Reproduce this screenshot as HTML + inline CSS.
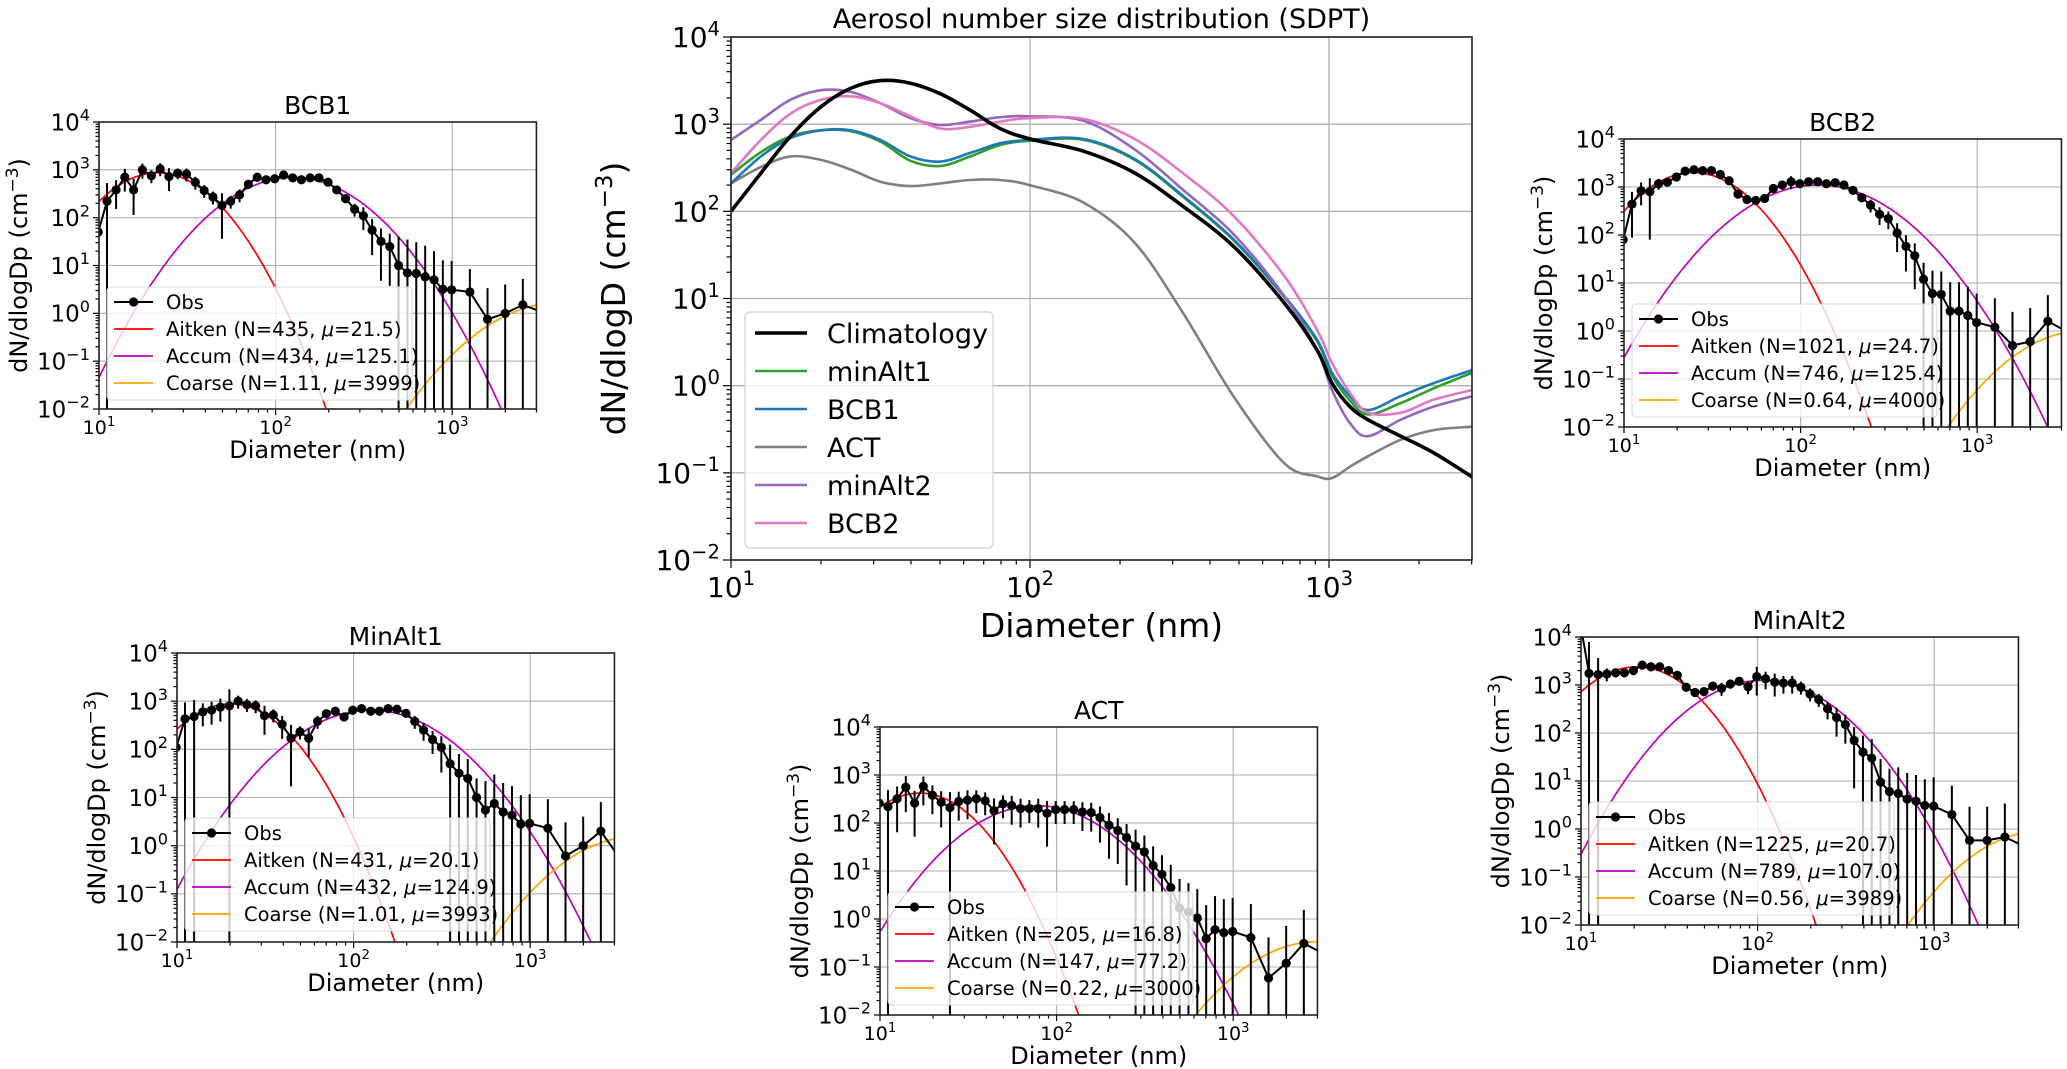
<!DOCTYPE html>
<html><head><meta charset="utf-8"><style>
html,body{margin:0;padding:0;background:#fff;overflow:hidden;}
svg{display:block;font-family:"DejaVu Sans","Liberation Sans",sans-serif;}
</style></head><body>
<svg id="fig" xmlns="http://www.w3.org/2000/svg" width="2067" height="1069" viewBox="0 0 2067 1069">
<rect width="2067" height="1069" fill="#fff"/>
</svg>
<script>
// ===== Main chart data =====
const mainDiam = [10,12.6,15.8,20,25.1,31.6,39.8,50.1,63.1,79.4,100,151,224,324,479,708,912,1023,1175,1349,1738,2239,3020];
const climLog10 = [2.0,2.44,2.86,3.20,3.41,3.50,3.47,3.35,3.16,2.95,2.83,2.69,2.44,2.06,1.60,0.95,0.41,0.03,-0.24,-0.39,-0.58,-0.77,-1.05];
const minAlt1Log10 = [2.42,2.68,2.86,2.93,2.92,2.80,2.58,2.52,2.63,2.76,2.81,2.82,2.59,2.17,1.67,1.02,0.51,0.12,-0.17,-0.33,-0.20,-0.03,0.15];
const bcb1Log10 = [2.32,2.63,2.84,2.93,2.93,2.82,2.63,2.57,2.67,2.78,2.82,2.83,2.60,2.18,1.68,1.03,0.53,0.15,-0.12,-0.28,-0.12,0.03,0.18];
const actLog10 = [2.32,2.51,2.63,2.59,2.48,2.34,2.29,2.32,2.36,2.36,2.30,2.10,1.64,0.84,-0.12,-0.89,-1.04,-1.06,-0.93,-0.81,-0.62,-0.51,-0.47];
const minAlt2Log10 = [2.82,3.05,3.28,3.39,3.37,3.24,3.07,2.99,3.03,3.08,3.09,3.04,2.71,2.25,1.74,1.03,0.41,-0.05,-0.43,-0.58,-0.39,-0.24,-0.12];
const bcb2Log10 = [2.44,2.82,3.12,3.28,3.32,3.24,3.09,2.95,2.97,3.03,3.07,3.06,2.83,2.44,1.95,1.26,0.64,0.26,-0.08,-0.31,-0.31,-0.16,-0.05];
const mainNames = ["Climatology","minAlt1","BCB1","ACT","minAlt2","BCB2"];
const yTickExp = [-2,-1,0,1,2,3,4];
const xTickExp = [1,2,3];

// ===== Sub-panel data =====
const obsDiam = [9.89,11.1,12.5,14.0,15.7,17.6,19.8,22.2,24.9,27.9,31.3,35.1,39.4,44.2,49.7,55.7,62.5,70.1,78.7,88.3,98.9,111,125,140,157,176,198,222,249,280,314,352,395,443,497,558,626,703,789,885,993,1259,1585,1995,2512,3162];
const bcb1Obs = [50,220,380,700,380,1000,750,1050,720,850,820,550,370,270,180,220,300,500,700,620,650,780,680,620,680,680,550,380,250,150,110,55,32,25,10,7,6.8,5.8,5,3.2,3.1,2.8,0.75,1.0,1.5,1.1];
const bcb1Err = [0,1.4,0.6,0.5,0.7,0.35,0.3,0.3,0.5,0.25,0.3,0.3,0.3,0.3,0.8,0.3,0.3,0.2,0.15,0.15,0.15,0.15,0.15,0.15,0.15,0.15,0.15,0.15,0.2,0.3,0.5,0.7,0.85,0.85,3,4,3.5,3.5,3,3,3,2,3.5,3,2.5,0];
const bcb2Obs = [80,440,830,800,1170,1260,1620,2140,2290,2190,2190,1820,1350,710,550,525,575,930,1100,1290,1170,1290,1290,1170,1230,1100,850,600,420,270,220,110,58,37,12,6,5.8,2.6,2.6,2.1,1.5,1.2,0.5,0.6,1.6,1.0];
const bcb2Err = [0,0.8,0.5,0.9,0.25,0.15,0.1,0.1,0.1,0.1,0.1,0.1,0.1,0.15,0.2,0.2,0.1,0.1,0.2,0.3,0.1,0.15,0.1,0.1,0.1,0.1,0.15,0.2,0.3,0.4,0.4,0.6,0.7,0.8,1.2,2,2,3,3,3,3,3,4,4,2.5,0];
const minAlt1Obs = [110,430,480,600,650,750,800,1000,850,800,500,520,330,170,230,170,380,550,620,470,650,700,620,620,700,680,560,380,250,160,110,50,32,25,10,5.5,7.5,5,4.3,2.8,2.9,2.3,0.61,1.0,2.0,0.6];
const minAlt1Err = [0,1.2,1.2,0.5,0.5,0.5,1.2,0.3,0.3,0.3,0.6,0.3,0.5,0.9,0.3,0.6,0.3,0.2,0.2,0.2,0.2,0.2,0.2,0.2,0.2,0.2,0.2,0.3,0.4,0.5,0.7,1.5,1.5,1.5,1.5,3,3,3,3,3,3,3,4,3,3,0];
const actObs = [260,220,320,560,260,580,380,270,210,280,300,320,290,180,250,230,200,200,200,160,190,190,190,170,165,130,90,70,50,33,25,13,8.5,4.5,1.7,1.4,1.05,0.39,0.6,0.52,0.55,0.41,0.059,0.12,0.31,0.2];
const actErr = [0,1.2,0.8,0.7,0.8,0.6,0.6,0.7,1.1,0.6,0.6,0.5,0.5,0.8,0.5,0.6,0.6,0.5,0.6,0.8,0.5,0.5,0.5,0.6,0.6,0.7,0.8,0.8,0.9,1.2,1.2,1.5,1.5,2,3,3,3,4,4,4,4,4,6,5,4,0];
const minAlt2Obs = [20000,1750,1650,1700,1800,1800,2000,2600,2400,2400,2000,1600,900,700,730,950,850,1050,1200,920,1500,1350,1150,1100,1100,900,650,500,320,210,150,70,40,30,9.5,6,5.5,4.2,3.8,3.1,3.0,2.0,0.58,0.58,0.68,0.45];
const minAlt2Err = [0,3.5,1.2,0.3,0.2,0.2,0.2,0.2,0.2,0.15,0.15,0.2,0.2,0.2,0.2,0.2,0.3,0.2,0.2,0.3,0.6,0.4,0.5,0.4,0.4,0.3,0.3,0.3,0.4,0.6,0.6,0.9,1.2,1.5,2,2,2.5,2.5,2.5,2.5,3,3,4,4,4,0];
// lognormal mode parameters [Aitken, Accum, Coarse]
const bcb1N = [435,434,1.11], bcb1Mu = [21.5,125.1,3999], bcb1LogSigma = [0.2,0.25,0.27];
const bcb2N = [1021,746,0.64], bcb2Mu = [24.7,125.4,4000], bcb2LogSigma = [0.204,0.27,0.253];
const minAlt1N = [431,432,1.01], minAlt1Mu = [20.1,124.9,3993], minAlt1LogSigma = [0.195,0.265,0.26];
const actN = [205,147,0.22], actMu = [16.8,77.2,3000], actLogSigma = [0.195,0.255,0.26];
const minAlt2N = [1225,789,0.56], minAlt2Mu = [20.7,107.0,3989], minAlt2LogSigma = [0.204,0.252,0.25];

const NS = "http://www.w3.org/2000/svg";
const svg = document.getElementById('fig');
let clipId = 0;
function mk(tag, attrs, parent){
  const e = document.createElementNS(NS, tag);
  for (const k in attrs) e.setAttribute(k, attrs[k]);
  (parent||svg).appendChild(e);
  return e;
}
function smoothPath(pts){
  if (pts.length<2) return '';
  let d = 'M'+pts[0][0].toFixed(1)+','+pts[0][1].toFixed(1);
  for (let i=0;i<pts.length-1;i++){
    const p0 = pts[i-1]||pts[i], p1=pts[i], p2=pts[i+1], p3=pts[i+2]||pts[i+1];
    const c1=[p1[0]+(p2[0]-p0[0])/6, p1[1]+(p2[1]-p0[1])/6];
    const c2=[p2[0]-(p3[0]-p1[0])/6, p2[1]-(p3[1]-p1[1])/6];
    d += 'C'+c1[0].toFixed(1)+','+c1[1].toFixed(1)+' '+c2[0].toFixed(1)+','+c2[1].toFixed(1)+' '+p2[0].toFixed(1)+','+p2[1].toFixed(1);
  }
  return d;
}
function powLabel(g, x, y, exp, size, anchor, name){
  const t = mk('text', {x:x, y:y, 'font-size':size, 'text-anchor':anchor, fill:'#000'}, g);
  
  
  t.appendChild(document.createTextNode('10'));
  const s = mk('tspan', {dy:-size*0.42, 'font-size':size*0.7}, t);
  s.textContent = exp<0 ? '\u2212'+(-exp) : String(exp);
  return t;
}

function axesFrame(g, L, T, W, H, dec, opt){
  const xs = v => L + (Math.log10(v)-1)*dec;
  const ys = v => T + H - (Math.log10(v)+2)*H/6;
  yTickExp.forEach(e=>{
    const y = ys(Math.pow(10,e));
    const ln = mk('line',{x1:L,x2:L+W,y1:y,y2:y,stroke:'#b0b0b0','stroke-width':opt.grid},g);
    
    
  });
  xTickExp.forEach(e=>{
    const x = xs(Math.pow(10,e));
    const ln = mk('line',{x1:x,x2:x,y1:T,y2:T+H,stroke:'#b0b0b0','stroke-width':opt.grid},g);
    
    
  });
  const tk = mk('g',{stroke:'#000','stroke-width':1.2},g);
  
  
  for (let e=-2;e<4;e++){
    for (let m=2;m<10;m++){
      const y = ys(m*Math.pow(10,e));
      mk('line',{x1:L-opt.minor,x2:L,y1:y,y2:y},tk);
    }
  }
  yTickExp.forEach(e=>{ const y=ys(Math.pow(10,e)); mk('line',{x1:L-opt.major,x2:L,y1:y,y2:y},tk); });
  for (let e=1;e<4;e++){
    for (let m=2;m<10;m++){
      const v=m*Math.pow(10,e); if (v>3000.1) continue;
      const x=xs(v); mk('line',{x1:x,x2:x,y1:T+H,y2:T+H+opt.minor},tk);
    }
  }
  xTickExp.forEach(e=>{ const x=xs(Math.pow(10,e)); mk('line',{x1:x,x2:x,y1:T+H,y2:T+H+opt.major},tk); });
  yTickExp.forEach(e=>{ powLabel(g, L-opt.major-3, ys(Math.pow(10,e))+opt.ySize*0.36, e, opt.ySize, 'end', 'y-tick-label'); });
  xTickExp.forEach(e=>{ powLabel(g, xs(Math.pow(10,e)), T+H+opt.xTickDy, e, opt.xSize, 'middle', 'x-tick-label'); });
  clipId++;
  const cp = mk('clipPath',{id:'cp'+clipId},g);
  mk('rect',{x:L,y:T,width:W,height:H},cp);
  return {xs, ys, clip:'url(#cp'+clipId+')'};
}
function frame(g,L,T,W,H){
  const r = mk('rect',{x:L,y:T,width:W,height:H,fill:'none',stroke:'#222','stroke-width':1.6},g);
  
  
}
function lognormal(N, mu, ls, d){
  const z = (Math.log10(d)-Math.log10(mu))/ls;
  return N/(Math.sqrt(2*Math.PI)*ls)*Math.exp(-0.5*z*z);
}

// ===== Main chart =====
(function(){
  const L=731, T=37, W=741, H=523, dec=299;
  const g = mk('g',{});
  
  
  const ax = axesFrame(g,L,T,W,H,dec,{grid:1.3,major:8,minor:4.5,ySize:28,xSize:28,xTickDy:37});
  const series = [climLog10,minAlt1Log10,bcb1Log10,actLog10,minAlt2Log10,bcb2Log10];
  const colors = ['#000000','#2ca02c','#1f77b4','#7f7f7f','#9467bd','#e377c2'];
  const widths = [3.6,2.6,2.6,2.6,2.6,2.6];
  const drawOrder = [3,1,2,4,5,0];
  const cg = mk('g',{'clip-path':ax.clip},g);
  drawOrder.forEach(i=>{
    const pts = mainDiam.map((d,j)=>[ax.xs(d), ax.ys(Math.pow(10,series[i][j]))]);
    const p = mk('path',{d:smoothPath(pts),fill:'none',stroke:colors[i],'stroke-width':widths[i],'stroke-linejoin':'round'},cg);
    
    
  });
  frame(g,L,T,W,H);
  const title = mk('text',{x:L+W/2,y:28,'font-size':27,'text-anchor':'middle'},g);
  
  
  title.textContent='Aerosol number size distribution (SDPT)';
  const xl = mk('text',{x:L+W/2,y:T+H+77,'font-size':33,'text-anchor':'middle'},g);
  
  
  xl.textContent='Diameter (nm)';
  const yl = mk('text',{x:0,y:0,'font-size':33,'text-anchor':'middle',transform:'translate('+(L-106)+','+(T+H/2)+') rotate(-90)'},g);
  
  
  yl.appendChild(document.createTextNode('dN/dlogD (cm'));
  const s1=mk('tspan',{dy:-13,'font-size':23},yl); s1.textContent='\u22123';
  const s2=mk('tspan',{dy:13},yl); s2.textContent=')';
  const lg = mk('g',{},g);
  
  
  mk('rect',{x:L+14,y:312,width:248,height:236,rx:5,fill:'rgba(255,255,255,0.85)',stroke:'#d0d0d0','stroke-width':1.2},lg);
  mainNames.forEach((n,i)=>{
    const cy = 333 + i*38;
    const e = mk('g',{},lg);
    
    
    mk('line',{x1:L+24,x2:L+76,y1:cy,y2:cy,stroke:colors[i],'stroke-width':widths[i]},e);
    const t = mk('text',{x:L+96,y:cy+10,'font-size':27},e);
    t.textContent=n;
  });
})();

// ===== Sub panels =====
function subPanel(cfg){
  const dec=176.6, W=2.477*dec, H=cfg.B-cfg.T, L=cfg.L, T=cfg.T;
  const g = mk('g',{});
  
  
  const ax = axesFrame(g,L,T,W,H,dec,{grid:1.1,major:6,minor:3.5,ySize:23,xSize:19,xTickDy:25});
  const cg = mk('g',{'clip-path':ax.clip},g);
  const modeColors = ['#ff0000','#bf00bf','#ffa500'];
  const modeNames = ['Aitken','Accum','Coarse'];
  for (let m=0;m<3;m++){
    const pts=[];
    for (let i=0;i<=300;i++){
      const d = Math.pow(10, 1+2.48*i/300);
      const v = Math.max(lognormal(cfg.N[m],cfg.mu[m],cfg.ls[m],d),1e-5);
      pts.push([ax.xs(d),ax.ys(v)]);
    }
    const p = mk('path',{d:'M'+pts.map(q=>q[0].toFixed(1)+','+q[1].toFixed(1)).join('L'),fill:'none',stroke:modeColors[m],'stroke-width':1.7},cg);
    
    
  }
  const eg = mk('g',{stroke:'#000','stroke-width':2},cg);
  
  
  cfg.obs.forEach((v,i)=>{
    const r = cfg.err[i]; if (!r) return;
    const x = ax.xs(obsDiam[i]);
    const hi = v*(1+r);
    const y2 = r>=1 ? T+H+5 : ax.ys(v*(1-r));
    const b = mk('line',{x1:x,x2:x,y1:ax.ys(hi),y2:y2},eg);
    
    
  });
  const lp = mk('path',{d:'M'+cfg.obs.map((v,i)=>ax.xs(obsDiam[i]).toFixed(1)+','+ax.ys(v).toFixed(1)).join('L'),fill:'none',stroke:'#000','stroke-width':2},cg);
  
  
  cfg.obs.forEach((v,i)=>{
    const c = mk('circle',{cx:ax.xs(obsDiam[i]),cy:ax.ys(v),r:4.6,fill:'#000'},cg);
    
    
  });
  frame(g,L,T,W,H);
  const tt = mk('text',{x:L+W/2,y:T-8,'font-size':25,'text-anchor':'middle'},g);
  
  
  tt.textContent=cfg.title;
  const xl = mk('text',{x:L+W/2,y:T+H+49,'font-size':24,'text-anchor':'middle'},g);
  
  
  xl.textContent='Diameter (nm)';
  const yl = mk('text',{x:0,y:0,'font-size':24,'text-anchor':'middle',transform:'translate('+(L-72)+','+(T+H/2)+') rotate(-90)'},g);
  
  
  yl.appendChild(document.createTextNode('dN/dlogDp (cm'));
  const s1=mk('tspan',{dy:-9,'font-size':17},yl); s1.textContent='\u22123';
  const s2=mk('tspan',{dy:9},yl); s2.textContent=')';
  const lg = mk('g',{},g);
  
  
  mk('rect',{x:L+8,y:T+165,width:305,height:113,rx:4,fill:'rgba(255,255,255,0.8)',stroke:'#d8d8d8','stroke-width':1.1},lg);
  const labels = [['Obs'],['Aitken (N='+cfg.N[0]+', ','='+cfg.mu[0].toFixed(1)+')'],['Accum (N='+cfg.N[1]+', ','='+cfg.mu[1].toFixed(1)+')'],['Coarse (N='+cfg.N[2].toFixed(2)+', ','='+cfg.mu[2]+')']];
  const lcol = ['#000','#ff0000','#bf00bf','#ffa500'];
  labels.forEach((lab,i)=>{
    const cy = T+180+i*27;
    const e = mk('g',{},lg);
    
    
    mk('line',{x1:L+15,x2:L+54,y1:cy,y2:cy,stroke:lcol[i],'stroke-width':i===0?2:1.7},e);
    if (i===0) mk('circle',{cx:L+34.5,cy:cy,r:4.6,fill:'#000'},e);
    const t = mk('text',{x:L+67,y:cy+7,'font-size':19.5},e);
    t.appendChild(document.createTextNode(lab[0]));
    if (lab.length>1){
      const mu = mk('tspan',{'font-style':'italic'},t); mu.textContent='\u03bc';
      t.appendChild(document.createTextNode(lab[1]));
    }
  });
}
subPanel({title:'BCB1',L:99,T:122,B:409,obs:bcb1Obs,err:bcb1Err,N:bcb1N,mu:bcb1Mu,ls:bcb1LogSigma});
subPanel({title:'BCB2',L:1624,T:139,B:427,obs:bcb2Obs,err:bcb2Err,N:bcb2N,mu:bcb2Mu,ls:bcb2LogSigma});
subPanel({title:'MinAlt1',L:177,T:653,B:942,obs:minAlt1Obs,err:minAlt1Err,N:minAlt1N,mu:minAlt1Mu,ls:minAlt1LogSigma});
subPanel({title:'ACT',L:880,T:727,B:1015,obs:actObs,err:actErr,N:actN,mu:actMu,ls:actLogSigma});
subPanel({title:'MinAlt2',L:1581,T:637,B:925,obs:minAlt2Obs,err:minAlt2Err,N:minAlt2N,mu:minAlt2Mu,ls:minAlt2LogSigma});
</script>
</body></html>
